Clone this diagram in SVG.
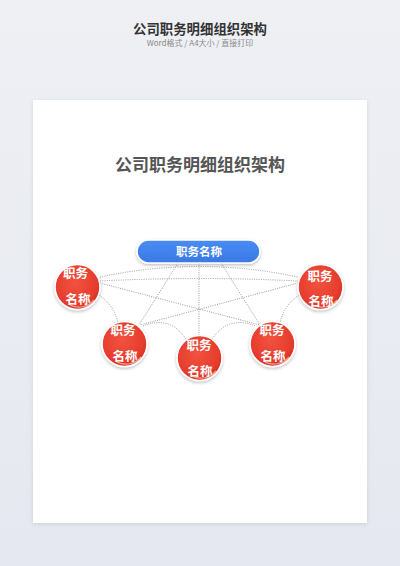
<svg xmlns="http://www.w3.org/2000/svg" width="400" height="566" viewBox="0 0 400 566">
  <defs>
    <linearGradient id="bg" x1="0" y1="0" x2="0" y2="1">
      <stop offset="0" stop-color="#eef0f4"/>
      <stop offset="1" stop-color="#e5e8f0"/>
    </linearGradient>
    <radialGradient id="red" cx="0.45" cy="0.4" r="0.65">
      <stop offset="0" stop-color="#f2533f"/>
      <stop offset="0.75" stop-color="#e63c2c"/>
      <stop offset="1" stop-color="#c92a1e"/>
    </radialGradient>
    <linearGradient id="blue" x1="0" y1="0" x2="0" y2="1">
      <stop offset="0" stop-color="#4a8cf2"/>
      <stop offset="1" stop-color="#3a78e6"/>
    </linearGradient>
    <filter id="cardShadow" x="-10%" y="-10%" width="120%" height="120%">
      <feDropShadow dx="0" dy="1" stdDeviation="2" flood-color="#9aa3b5" flood-opacity="0.35"/>
    </filter>
    <filter id="nodeShadow" x="-30%" y="-30%" width="160%" height="160%">
      <feDropShadow dx="0" dy="1.5" stdDeviation="1.5" flood-color="#000" flood-opacity="0.25"/>
    </filter>
  </defs>
  <style>
    .t { font-family: "Noto Sans CJK SC", "Liberation Sans", sans-serif; text-anchor: middle; }
    .head { font-size: 13.4px; font-weight: bold; fill: #333; }
    .sub { font-size: 8px; fill: #8a8a8a; }
    .ctitle { font-size: 17px; font-weight: bold; fill: #555; }
    .node { fill: url(#red); stroke: #fff; stroke-width: 1.6; filter: url(#nodeShadow); }
    .gloss { fill: none; stroke: #ffd0c8; stroke-width: 1.2; opacity: 0.7; }
    .nt { font-size: 12.5px; font-weight: bold; fill: #fff; }
    .pill { fill: url(#blue); stroke: #fff; stroke-width: 1.6; filter: url(#nodeShadow); }
    .pt { font-size: 11.5px; font-weight: bold; fill: #fff; }
    .link { fill: none; stroke: #9a9a9a; stroke-width: 1; stroke-dasharray: 1 1.3; }
  </style>

  <rect x="0" y="0" width="400" height="566" fill="url(#bg)"/>
  <text class="t head" x="200" y="34">公司职务明细组织架构</text>
  <text class="t sub" x="200" y="46">Word格式 / A4大小 / 直接打印</text>

  <rect x="33" y="100" width="334" height="423" fill="#fff" filter="url(#cardShadow)"/>
  <text class="t ctitle" x="200" y="171">公司职务明细组织架构</text>

  <g id="connectors">
    <path class="link" d="M100,277 Q199,256 298,277"/>
    <path class="link" d="M100,281 Q199,276 298,281"/>
    <path class="link" d="M100,283 L260,325"/>
    <path class="link" d="M298,283 L140,325"/>
    <path class="link" d="M178,263 L139,325"/>
    <path class="link" d="M221,263 L260,325"/>
    <path class="link" d="M199,263 L199,336"/>
    <path class="link" d="M99,295 Q114,305 118,323"/>
    <path class="link" d="M299,295 Q284,305 280,323"/>
    <path class="link" d="M143,326 Q170,315 186,339"/>
    <path class="link" d="M212,339 Q228,315 256,326"/>
  </g>

  <g id="top">
    <rect class="pill" x="137" y="240" width="123" height="23" rx="11.5"/>
    <text class="t pt" x="199" y="256">职务名称</text>
  </g>

  <g id="n1">
    <circle class="node" cx="77.5" cy="287" r="22.5"/>
    <path class="gloss" d="M94,300 A19.5,19.5 0 0 1 70,305"/>
    <text class="t nt" x="75.5" y="278">职务</text>
    <text class="t nt" x="78" y="304">名称</text>
  </g>
  <g id="n2">
    <circle class="node" cx="124.5" cy="344" r="22.5"/>
    <path class="gloss" d="M141,357 A19.5,19.5 0 0 1 117,362"/>
    <text class="t nt" x="123" y="335">职务</text>
    <text class="t nt" x="125" y="361">名称</text>
  </g>
  <g id="n3">
    <circle class="node" cx="199.5" cy="358" r="22.5"/>
    <path class="gloss" d="M216,371 A19.5,19.5 0 0 1 192,376"/>
    <text class="t nt" x="199" y="350">职务</text>
    <text class="t nt" x="200" y="376">名称</text>
  </g>
  <g id="n4">
    <circle class="node" cx="272.5" cy="344" r="22.5"/>
    <path class="gloss" d="M289,357 A19.5,19.5 0 0 1 265,362"/>
    <text class="t nt" x="272" y="335">职务</text>
    <text class="t nt" x="273" y="361">名称</text>
  </g>
  <g id="n5">
    <circle class="node" cx="320.5" cy="287" r="22.5"/>
    <path class="gloss" d="M337,300 A19.5,19.5 0 0 1 313,305"/>
    <text class="t nt" x="320" y="281">职务</text>
    <text class="t nt" x="321" y="306">名称</text>
  </g>
</svg>
